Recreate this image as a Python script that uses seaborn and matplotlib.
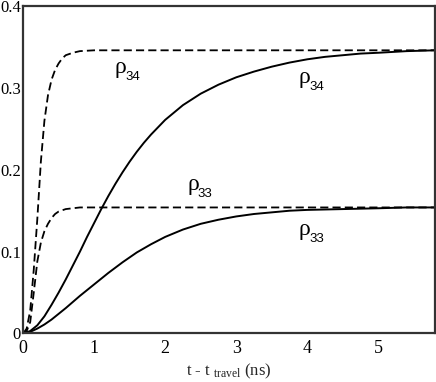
import matplotlib
matplotlib.use("Agg")
import matplotlib.pyplot as plt
import seaborn as sns
import pandas as pd

# Data
t_dash34 = [0, 0.05, 0.1, 0.15, 0.2, 0.25, 0.3, 0.35, 0.4, 0.45, 0.5, 0.55, 0.6, 0.7, 0.8, 1.0, 2.0, 5.8]
v_dash34 = [0, 0.006, 0.028, 0.078, 0.140, 0.210, 0.260, 0.291, 0.310, 0.322, 0.330, 0.336, 0.340, 0.343, 0.345, 0.346, 0.346, 0.346]

t_dash33 = [0, 0.05, 0.1, 0.15, 0.2, 0.25, 0.3, 0.35, 0.4, 0.45, 0.5, 0.6, 0.7, 0.8, 1.0, 2.0, 5.8]
v_dash33 = [0, 0.003, 0.014, 0.050, 0.088, 0.111, 0.125, 0.134, 0.141, 0.146, 0.149, 0.152, 0.153, 0.154, 0.154, 0.154, 0.154]

t_sol34 = [0, 0.1, 0.2, 0.3, 0.4, 0.5, 0.6, 0.7, 0.8, 0.9, 1.0, 1.1, 1.2, 1.3, 1.4, 1.5, 1.6, 1.7, 1.8, 1.9, 2.0,
           2.25, 2.5, 2.75, 3.0, 3.25, 3.5, 3.75, 4.0, 4.25, 4.5, 4.75, 5.0, 5.4, 5.8]
v_sol34 = [0, 0.003, 0.010, 0.021, 0.035, 0.050, 0.066, 0.083, 0.100, 0.118, 0.135, 0.152, 0.168, 0.183, 0.197, 0.210, 0.222,
           0.233, 0.243, 0.252, 0.261, 0.279, 0.293, 0.304, 0.313, 0.320, 0.326, 0.331, 0.335, 0.338, 0.340, 0.342, 0.343, 0.345, 0.346]

t_sol33 = [0, 0.1, 0.2, 0.3, 0.4, 0.5, 0.6, 0.8, 1.0, 1.2, 1.4, 1.6, 1.8, 2.0, 2.25, 2.5, 2.75, 3.0, 3.25, 3.5, 3.75,
           4.0, 4.5, 5.0, 5.4, 5.8]
v_sol33 = [0, 0.002, 0.006, 0.011, 0.017, 0.024, 0.031, 0.046, 0.060, 0.074, 0.087, 0.099, 0.109, 0.118, 0.127, 0.134, 0.139,
           0.143, 0.146, 0.148, 0.150, 0.151, 0.152, 0.153, 0.154, 0.154]

x_ticks = [0, 1, 2, 3, 4, 5]
x_ticklabels = ["0", "1", "2", "3", "4", "5"]
y_ticks = [0, 0.1, 0.2, 0.3, 0.4]
y_ticklabels = ["0", "0.1", "0.2", "0.3", "0.4"]

label_subs = ["34", "34", "33", "33"]
label_pos = [(1.37, 0.3187), (3.96, 0.3064), (2.39, 0.1755), (3.96, 0.1205)]

sns.set_style("white")
plt.rcParams["font.family"] = ["Liberation Serif", "DejaVu Serif"]
plt.rcParams["mathtext.fontset"] = "custom"
plt.rcParams["mathtext.rm"] = "Liberation Serif"
plt.rcParams["mathtext.it"] = "Liberation Serif:italic"

fig = plt.figure(figsize=(4.36, 3.82), dpi=100)
ax = fig.add_axes([0.053, 0.127, 0.945, 0.857])

dash = (4.5, 2.3)
sns.lineplot(data=pd.DataFrame({"t": t_dash34, "v": v_dash34}), x="t", y="v", ax=ax,
             color="black", lw=1.3, linestyle=(0, dash), sort=False)
sns.lineplot(data=pd.DataFrame({"t": t_dash33, "v": v_dash33}), x="t", y="v", ax=ax,
             color="black", lw=1.3, linestyle=(0, dash), sort=False)
sns.lineplot(data=pd.DataFrame({"t": t_sol34, "v": v_sol34}), x="t", y="v", ax=ax,
             color="black", lw=1.4, sort=False)
sns.lineplot(data=pd.DataFrame({"t": t_sol33, "v": v_sol33}), x="t", y="v", ax=ax,
             color="black", lw=1.4, sort=False)

for sub, (xx, yy) in zip(label_subs, label_pos):
    ax.text(xx, yy, "\u03c1", fontsize=17, ha="center", va="baseline", color="black",
            family=["Liberation Serif", "DejaVu Serif"])
    ax.annotate(sub, (xx, yy), xytext=(3.3, -5), textcoords="offset points",
                fontsize=9.5, ha="left", va="baseline", color="black",
                family=["Liberation Sans", "DejaVu Sans"])

ax.set_xlim(0, 5.8)
ax.set_ylim(0, 0.4)
ax.set_xticks(x_ticks)
ax.set_xticklabels(x_ticklabels)
ax.set_yticks(y_ticks)
ax.set_yticklabels(y_ticklabels)
ax.tick_params(direction="in", length=7, width=1.2, colors="#333333", labelcolor="black",
               top=False, right=False)
ax.tick_params(axis="x", pad=5, labelsize=13)
ax.tick_params(axis="y", pad=1.5, labelsize=12)
for s in ax.spines.values():
    s.set_color("#333333")
    s.set_linewidth(1.6)
ax.set_xlabel(r"t - t $_{\mathrm{travel}}$ (ns)", fontsize=12, labelpad=3)
ax.set_ylabel("")

fig.savefig("out.png", dpi=100)
